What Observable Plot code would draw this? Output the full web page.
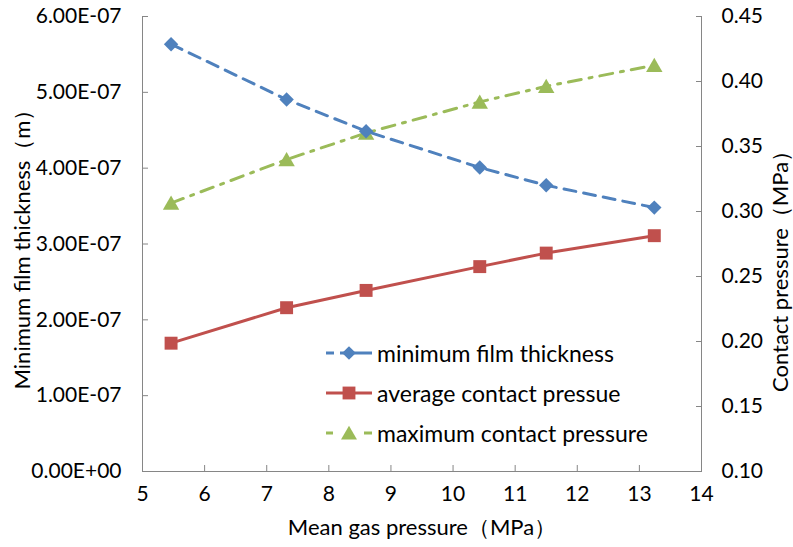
<!DOCTYPE html>
<html>
<head>
<meta charset="utf-8">
<script src="https://cdn.jsdelivr.net/npm/d3@7"></script>
<script src="https://cdn.jsdelivr.net/npm/@observablehq/plot@0.6"></script>
<style>
  html, body { margin: 0; padding: 0; background: #fff; }
  #wrap { position: relative; width: 793px; height: 547px; font-family: Lato, "Noto Sans", sans-serif; }
  #legend { position: absolute; left: 326px; top: 340px; font-size: 23px; color: #000; }
  .row { position: absolute; left: 0; height: 26px; white-space: nowrap; display: flex; align-items: center; }
  .row svg { margin-right: 4px; }
</style>
</head>
<body>
<div id="wrap"></div>
<script>
// ---- data ----
const meanGasPressure = [5.46, 7.32, 8.6, 10.43, 11.5, 13.24];
const minFilmThickness = [5.635e-7, 4.905e-7, 4.487e-7, 4.008e-7, 3.774e-7, 3.48e-7];
const avgContactPressure = [0.1987, 0.226, 0.2393, 0.2576, 0.268, 0.2814];
const maxContactPressure = [0.3065, 0.340, 0.3604, 0.3843, 0.3963, 0.4125];
const xTicks = [5, 6, 7, 8, 9, 10, 11, 12, 13, 14];
const leftTicks = [0, 1e-7, 2e-7, 3e-7, 4e-7, 5e-7, 6e-7];
const rightTicks = [0.10, 0.15, 0.20, 0.25, 0.30, 0.35, 0.40, 0.45];
const seriesNames = ["minimum film thickness", "average contact pressue", "maximum contact pressure"];

const colors = ["#4F81BD", "#C0504D", "#9BBB59"];
const axisGrey = "#868686";

// right axis mapped onto left scale
const L0 = 0, L1 = 6e-7, R0 = 0.10, R1 = 0.45;
const toLeft = v => L0 + (v - R0) / (R1 - R0) * (L1 - L0);
const toRight = d => R0 + (d - L0) / (L1 - L0) * (R1 - R0);

const fmtSci = d => {
  if (Math.abs(d) < 1e-20) return "0.00E+00";
  const [m, e] = d.toExponential(2).toUpperCase().split("E");
  const sign = e[0] === "-" ? "-" : "+";
  const n = Math.abs(parseInt(e, 10));
  return m + "E" + sign + String(n).padStart(2, "0");
};

const film = meanGasPressure.map((x, i) => ({x, y: minFilmThickness[i]}));
const avg = meanGasPressure.map((x, i) => ({x, y: toLeft(avgContactPressure[i])}));
const mx = meanGasPressure.map((x, i) => ({x, y: toLeft(maxContactPressure[i])}));

const tickFont = 21, titleFont = 22;

const chart = Plot.plot({
  width: 793,
  height: 547,
  marginLeft: 142,
  marginRight: 92,
  marginTop: 16,
  marginBottom: 76,
  style: {fontFamily: "Lato, 'Noto Sans', sans-serif", fontSize: "21px", color: "#000", background: "#fff"},
  x: {domain: [5, 14]},
  y: {domain: [L0, L1]},
  marks: [
    Plot.ruleX([5, 14], {stroke: axisGrey, strokeWidth: 1}),
    Plot.ruleY([0], {stroke: axisGrey, strokeWidth: 1}),
    Plot.axisX(xTicks, {tickSize: -6, tickPadding: 21, stroke: axisGrey, fill: "#000", fontSize: tickFont, label: null}),
    Plot.axisY(leftTicks, {anchor: "left", tickSize: -6, tickPadding: 27, stroke: axisGrey, fill: "#000", fontSize: tickFont, tickFormat: fmtSci, label: null}),
    Plot.axisY(rightTicks.map(toLeft), {anchor: "right", tickSize: -6, tickPadding: 26, stroke: axisGrey, fill: "#000", fontSize: tickFont, tickFormat: d => toRight(d).toFixed(2), label: null}),
    // series
    Plot.line(avg, {x: "x", y: "y", stroke: colors[1], strokeWidth: 3}),
    Plot.dot(avg, {x: "x", y: "y", symbol: "square", r: 7.3, fill: colors[1], stroke: null}),
    Plot.line(mx, {x: "x", y: "y", stroke: colors[2], strokeWidth: 3, strokeDasharray: "13,8,3,8"}),
    Plot.dot(mx, {x: "x", y: "y", symbol: "triangle", r: 6.1, fill: colors[2], stroke: null, dy: 2}),
    Plot.line(film, {x: "x", y: "y", stroke: colors[0], strokeWidth: 3, strokeDasharray: "12,8"}),
    Plot.dot(film, {x: "x", y: "y", symbol: "diamond2", r: 6.5, fill: colors[0], stroke: null}),
    // axis titles
    Plot.text(["Mean gas pressure（MPa）"], {frameAnchor: "bottom", dy: 56, lineAnchor: "middle", textAnchor: "middle", fontSize: titleFont, fill: "#000", text: d => d}),
    Plot.text(["Minimum film thickness（m）"], {frameAnchor: "left", dx: -120, rotate: -90, lineAnchor: "middle", textAnchor: "middle", fontSize: titleFont, fill: "#000", text: d => d}),
    Plot.text(["Contact pressure（MPa）"], {frameAnchor: "right", dx: 79, dy: 22, rotate: -90, lineAnchor: "middle", textAnchor: "middle", fontSize: titleFont, fill: "#000", text: d => d})
  ]
});
document.getElementById("wrap").appendChild(chart);

// legend overlay
const legend = document.createElement("div");
legend.id = "legend";
seriesNames.forEach((name, i) => {
  const row = document.createElement("div");
  row.className = "row";
  row.style.top = (i * 40) + "px";
  const ns = "http://www.w3.org/2000/svg";
  const s = document.createElementNS(ns, "svg");
  s.setAttribute("width", 47); s.setAttribute("height", 26);
  const ln = document.createElementNS(ns, "line");
  ln.setAttribute("x1", 0); ln.setAttribute("x2", 46); ln.setAttribute("y1", 13); ln.setAttribute("y2", 13);
  ln.setAttribute("stroke", colors[i]); ln.setAttribute("stroke-width", 3);
  if (i === 0) ln.setAttribute("stroke-dasharray", "8,6,32");
  if (i === 2) ln.setAttribute("stroke-dasharray", "7,31,8");
  s.appendChild(ln);
  const p = document.createElementNS(ns, "path");
  const sym = i === 0 ? d3.symbol(d3.symbolDiamond2, 120) : i === 1 ? d3.symbol(d3.symbolSquare, 165) : d3.symbol(d3.symbolTriangle, 110);
  p.setAttribute("d", sym());
  p.setAttribute("transform", `translate(23,${i === 2 ? 15 : 13})`);
  p.setAttribute("fill", colors[i]);
  s.appendChild(p);
  row.appendChild(s);
  const t = document.createElement("span");
  t.textContent = name;
  row.appendChild(t);
  legend.appendChild(row);
});
document.getElementById("wrap").appendChild(legend);
</script>
</body>
</html>
